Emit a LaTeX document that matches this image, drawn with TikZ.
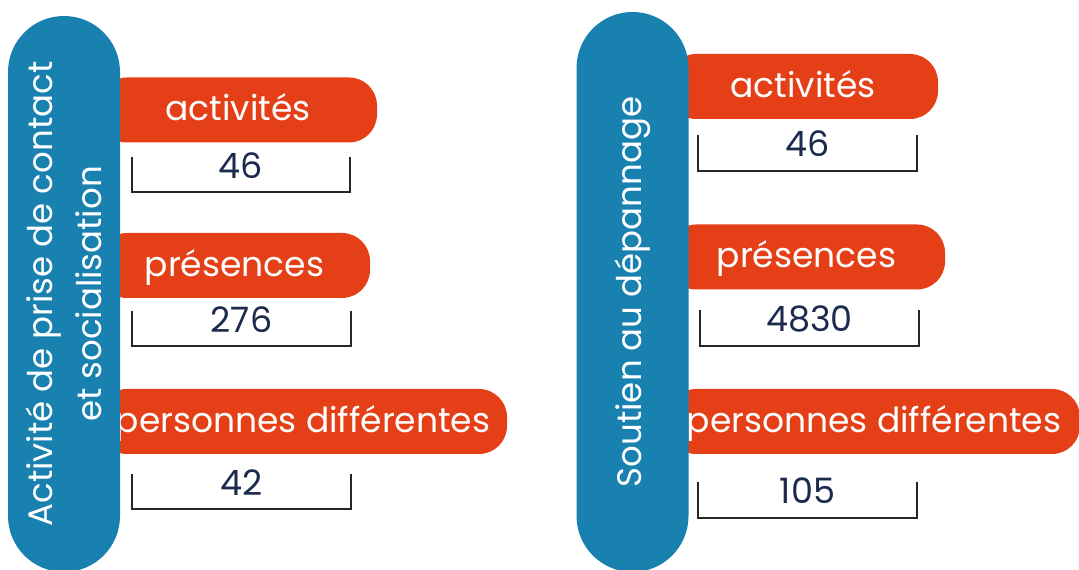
\documentclass[tikz,border=0pt]{standalone}
\usepackage{fontspec}
\setmainfont{Poppins}
\usepackage{tikz}
\usetikzlibrary{positioning}

\definecolor{pillarblue}{HTML}{1881AF}
\definecolor{barorange}{HTML}{E53F18}
\definecolor{numnavy}{HTML}{1C2B4D}

\begin{document}
\begin{tikzpicture}[
  x=1pt, y=1pt,
  pillar/.style={fill=pillarblue,text=white,rotate=90,minimum height=112pt,
    rounded corners=56pt,align=center,font=\fontsize{34}{49}\selectfont},
  bar/.style={fill=barorange,text=white,minimum height=65pt,rounded corners=28pt,
    inner sep=0pt,text height=28pt,text depth=6pt,font=\fontsize{34.5}{40}\selectfont},
  numbox/.style={inner sep=0pt,minimum width=218pt,minimum height=35pt,
    text height=21pt,text depth=13pt,text=numnavy,font=\fontsize{35}{40}\selectfont},
  bracket/.style={line width=1.7pt,black!85}
]
\useasboundingbox (0,0) rectangle (1079,570);

% left column
\node[bar,minimum width=278pt] (la) at (238,460) {activités};
\node[bar,minimum width=271pt] (lp) at (234.5,304.5) {présences};
\node[bar,minimum width=408pt] (ld) at (303,148.5) {personnes différentes};
\node[pillar,minimum width=556pt] (lcol) at (64,276)
  {Activité de prise de contact\\ et socialisation};

\node[numbox] (la46) at (241,395.5) {46};
\node[numbox] (lp276) at (241.5,241.5) {276};
\node[numbox] (ld42) at (241.5,78.5) {42};

% right column
\node[bar,minimum width=270pt] (ra) at (803,483.5) {activités};
\node[bar,minimum width=277pt] (rp) at (806.5,313) {présences};
\node[bar,minimum width=412pt] (rd) at (874,148.5) {personnes différentes};
\node[pillar,minimum width=560pt] (rcol) at (632.5,278) {Soutien au dépannage};

\node[numbox] (ra46) at (807.5,417) {46};
\node[numbox] (rp4830) at (809.5,242) {4830};
\node[numbox] (rd105) at (807.5,70) {105};

% brackets
\draw[bracket] (la46.north west) |- (la46.south east) -- (la46.north east);
\draw[bracket] (lp276.north west) |- (lp276.south east) -- (lp276.north east);
\draw[bracket] (ld42.north west) |- (ld42.south east) -- (ld42.north east);
\draw[bracket] (ra46.north west) |- (ra46.south east) -- (ra46.north east);
\draw[bracket] (rp4830.north west) |- (rp4830.south east) -- (rp4830.north east);
\draw[bracket] (rd105.north west) |- (rd105.south east) -- (rd105.north east);

\end{tikzpicture}
\end{document}
